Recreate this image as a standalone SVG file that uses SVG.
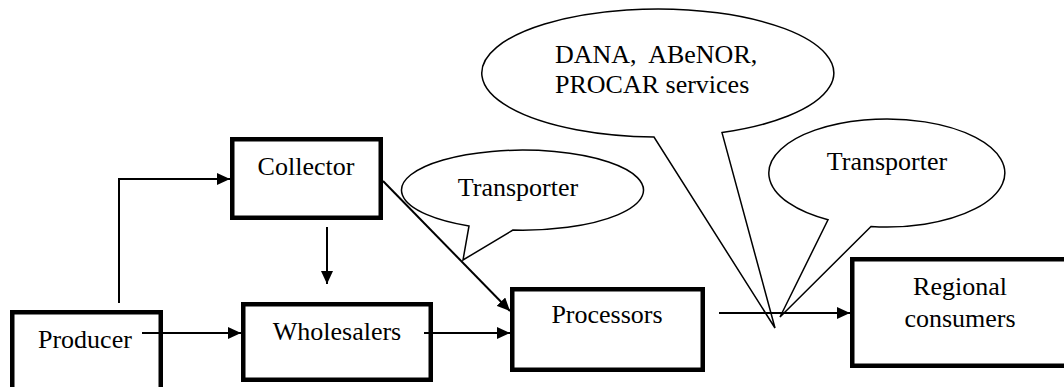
<svg xmlns="http://www.w3.org/2000/svg" width="1064" height="387" viewBox="0 0 1064 387">
<defs>
<style>
.box{fill:#fff;stroke:#000;stroke-width:4.5}
.lbl{font-family:"Liberation Serif","Times New Roman",serif;font-size:26px;fill:#000}
.c{text-anchor:middle}
.edge{fill:none;stroke:#000;stroke-width:2}
.call{fill:#fff;stroke:#000;stroke-width:1.5}
</style>
<marker id="arr" markerUnits="userSpaceOnUse" markerWidth="14" markerHeight="12" refX="13" refY="6" orient="auto">
<path d="M0,0 L13,6 L0,12 Z" fill="#000"/>
</marker>
</defs>
<rect width="1064" height="387" fill="#fff"/>

<g id="callout-services">
<path class="call" d="M 722,132.6 L 775,328 L 654,137 A 176 64 0 1 1 722,132.6 Z"/>
<text class="lbl" x="555" y="63" xml:space="preserve">DANA,  ABeNOR,</text>
<text class="lbl" x="555" y="93">PROCAR services</text>
</g>
<g id="callout-transporter-1">
<path class="call" d="M 513,230 L 463,260 L 469,226 A 121 40 0 1 1 513,230 Z"/>
<text class="lbl c" x="518" y="196">Transporter</text>
</g>
<g id="callout-transporter-2">
<path class="call" d="M 871,226.5 L 780,317 L 828,219.8 A 118 54 0 1 1 871,226.5 Z"/>
<text class="lbl c" x="887" y="170">Transporter</text>
</g>

<g id="producer">
<rect class="box" x="12.25" y="312.25" width="148.5" height="90"/>
<text class="lbl" x="38" y="348">Producer</text>
</g>
<g id="collector">
<rect class="box" x="232.25" y="139.25" width="148.5" height="78.5"/>
<text class="lbl c" x="306" y="175">Collector</text>
</g>
<g id="wholesalers">
<rect class="box" x="243.25" y="304.25" width="187.5" height="75.5"/>
<text class="lbl c" x="337" y="340">Wholesalers</text>
</g>
<g id="processors">
<rect class="box" x="512.25" y="289.25" width="190.5" height="80.5"/>
<text class="lbl c" x="607" y="323">Processors</text>
</g>
<g id="regional-consumers">
<rect class="box" x="852.25" y="259.25" width="230" height="106.5"/>
<text class="lbl c" x="960" y="295">Regional</text>
<text class="lbl c" x="960" y="327">consumers</text>
</g>

<g id="connectors">
<polyline class="edge" points="119,303 119,179 230,179" marker-end="url(#arr)"/>
<line class="edge" x1="327" y1="227" x2="327" y2="284" marker-end="url(#arr)"/>
<line class="edge" x1="142" y1="333" x2="241" y2="333" marker-end="url(#arr)"/>
<line class="edge" x1="424" y1="333" x2="510" y2="333" marker-end="url(#arr)"/>
<line class="edge" x1="383" y1="181" x2="510" y2="311" marker-end="url(#arr)"/>
<line class="edge" x1="719" y1="313" x2="850" y2="313" marker-end="url(#arr)"/>
</g>
</svg>
